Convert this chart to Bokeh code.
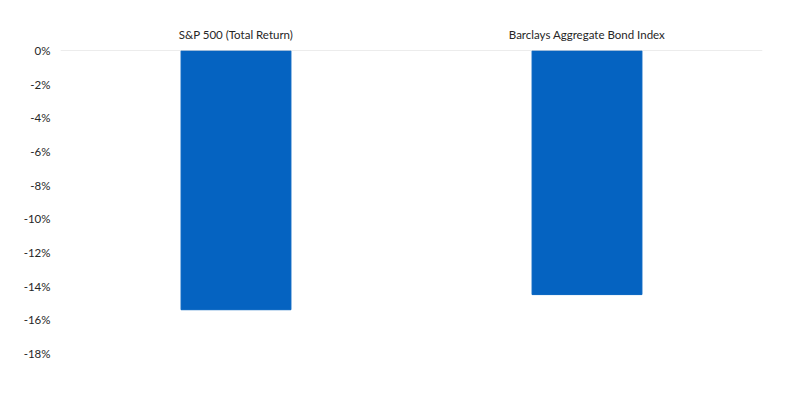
from bokeh.plotting import figure
from bokeh.models import Range1d, FixedTicker, CustomJSTickFormatter, Span, ColumnDataSource
from bokeh.embed import file_html
from bokeh.resources import INLINE

categories = ["S&P 500 (Total Return)", "Barclays Aggregate Bond Index"]
returns = [-15.4, -14.5]
y_ticks = [0, -2, -4, -6, -8, -10, -12, -14, -16, -18]

src = ColumnDataSource(data=dict(cat=categories, val=returns))

p = figure(x_range=categories, y_range=Range1d(-18, 0), width=784, height=384,
           output_backend="svg", toolbar_location=None, x_axis_location="above",
           min_border_left=60, min_border_right=22, min_border_top=50, min_border_bottom=31)
p.vbar(x="cat", top=0, bottom="val", width=0.313, color="#0563C1", source=src)

p.outline_line_color = None
p.xgrid.grid_line_color = None
p.ygrid.grid_line_color = None
p.add_layout(Span(location=0, dimension="width", line_color="#D9D9D9", line_width=1))

p.yaxis.ticker = FixedTicker(ticks=y_ticks)
p.yaxis.formatter = CustomJSTickFormatter(code="return tick.toFixed(0) + '%';")
for ax in (p.xaxis, p.yaxis):
    ax.axis_line_color = None
    ax.major_tick_line_color = None
    ax.minor_tick_line_color = None
    ax.major_label_text_font = "Lato"
    ax.major_label_text_font_size = "11.5px"
    ax.major_label_text_color = "#262626"
p.yaxis.major_label_standoff = 4
p.xaxis.major_label_standoff = 4

open("out.html", "w").write(file_html(p, INLINE))
